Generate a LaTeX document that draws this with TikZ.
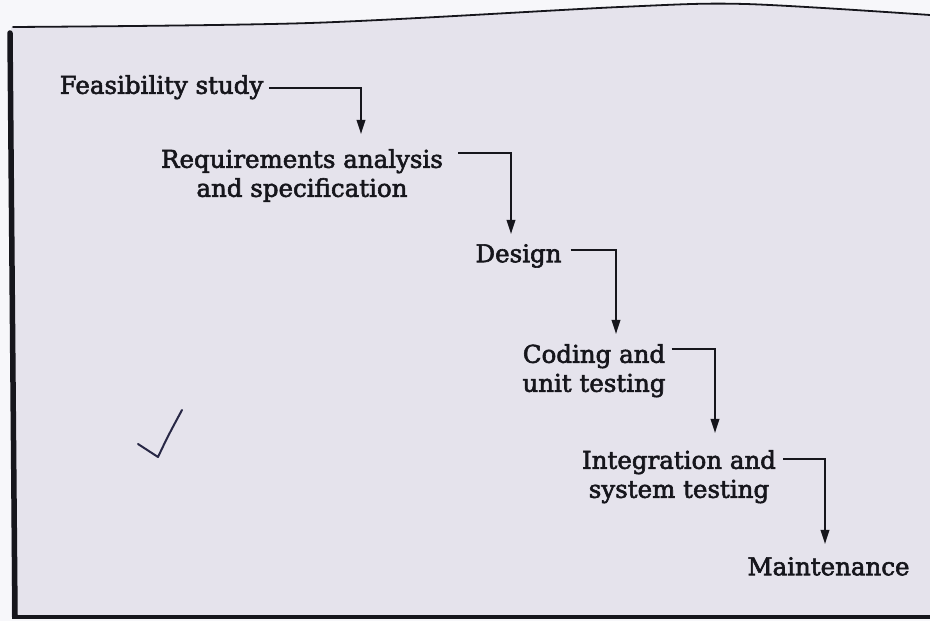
\documentclass[tikz,border=0pt]{standalone}
\usepackage{fontspec}
\setmainfont{DejaVu Serif}
\newfontfamily\phasefont{DejaVu Serif}[FakeBold=2.4]
\usetikzlibrary{arrows.meta}
\definecolor{paper}{RGB}{229,227,236}
\definecolor{margin}{RGB}{247,247,250}
\definecolor{ink}{RGB}{22,22,28}
\definecolor{pen}{RGB}{40,40,70}
\tikzset{
  phase/.style={inner sep=0pt, text=ink, align=center,
    font=\phasefont\fontsize{24.5}{29}\selectfont},
  flow/.style={draw=ink, line width=1.8pt,
    -{Triangle[length=14pt,width=8.5pt]}},
  frameline/.style={draw=ink, line cap=round}
}
\begin{document}
\begin{tikzpicture}[x=1pt,y=1pt]
  \useasboundingbox (0,0) rectangle (930,621);
  % page and its printed frame
  \fill[margin] (0,0) rectangle (930,621);
  \fill[paper] (11,4) -- (11,594) --
    plot[smooth] coordinates {(13,594) (310,598) (620,614) (745,617) (930,606)}
    -- (930,4) -- cycle;
  \draw[frameline, line width=1.8pt] plot[smooth]
    coordinates {(13,594) (310,598) (620,614) (745,617) (930,606)};
  \draw[frameline, line width=5.5pt] (10,588) -- (15,6);
  \draw[ink, line width=4pt] (12,4) -- (930,4);

  % phases
  \node[phase, anchor=north] (feas)  at (161.5,546) {Feasibility study};
  \node[phase, anchor=north] (req)   at (302,472)   {Requirements analysis\\and specification};
  \node[phase, anchor=north] (des)   at (518.5,377) {Design};
  \node[phase, anchor=north] (code)  at (594,277)   {Coding and\\unit testing};
  \node[phase, anchor=north] (integ) at (679,171)   {Integration and\\system testing};
  \node[phase, anchor=north] (maint) at (828.5,64)  {Maintenance};

  % step-down connectors
  \draw[flow] ([shift={(6,6)}]feas.base east)    -| ([shift={(59,15)}]req.north);
  \draw[flow] ([shift={(15,-4)}]req.north east)  -| ([shift={(-7.5,10)}]des.north);
  \draw[flow] ([shift={(9,12)}]des.base east)    -| ([shift={(22,10)}]code.north);
  \draw[flow] ([shift={(6,-5)}]code.north east)  -| ([shift={(36,17)}]integ.north);
  \draw[flow] ([shift={(7,-9)}]integ.north east) -| ([shift={(-3.5,13)}]maint.north);

  % pencil tick in the margin
  \draw[pen, line width=2pt, line cap=round, line join=round]
    (138,177) -- (158,164) .. controls (168,185) .. (182,211);
\end{tikzpicture}
\end{document}
